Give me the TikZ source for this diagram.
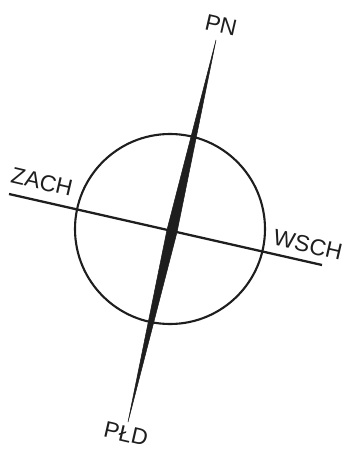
\documentclass[tikz,border=0pt]{standalone}
\usepackage{fontspec}
\setmainfont{Liberation Sans}
\usepackage{tikz}
\usetikzlibrary{positioning,calc}
\definecolor{ink}{RGB}{30,30,30}

\begin{document}
\begin{tikzpicture}[
  x=0.02cm,y=-0.02cm,
  font=\fontsize{13}{15}\selectfont,
  lbl/.style={inner sep=0pt,rotate=-13,color=ink},
  rim/.style={draw=ink,line width=1.2pt},
  axis/.style={draw=ink,line width=1.3pt},
  needle/.style={fill=ink,draw=ink,line width=0.3pt,line join=miter},
]
\useasboundingbox (0,0) rectangle (342,450);

% tarcza
\node[rim,circle,minimum size=190*0.02cm,inner sep=0pt] (dial) at (170,229) {};

% linia wschod-zachod
\coordinate (w) at (9,194);
\coordinate (e) at (322,265);
\draw[axis] (w) -- (e);
\node[lbl] (zach) at (42,182) {ZACH};
\node[lbl] (wsch) at (308,245) {WSCH};

% igla
\coordinate (n) at (216,40);
\coordinate (s) at (128,422);
\coordinate (mid) at (172,231);
\fill[needle] (n) -- ($(mid)+(5,1.2)$) -- (s) -- ($(mid)+(-5,-1.2)$) -- cycle;
\node[lbl] (pn) at (221,25) {PN};
\node[lbl] (pld) at (126,434) {PŁD};

\end{tikzpicture}
\end{document}
